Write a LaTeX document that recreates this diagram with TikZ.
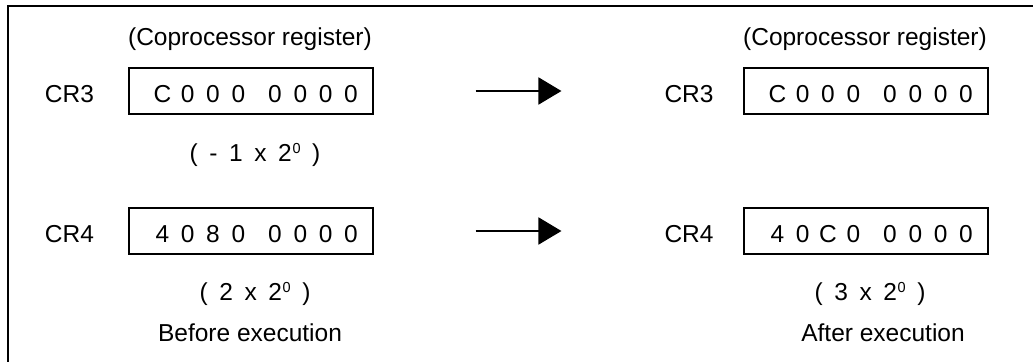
\documentclass[tikz,border=0pt]{standalone}
\usepackage{fontspec}
\setmainfont{Liberation Sans}
\usetikzlibrary{arrows.meta}
\newcommand\hexcell[1]{\makebox[25.3pt]{#1}}
\newcommand\hexword[8]{\hexcell{#1}\hexcell{#2}\hexcell{#3}\hexcell{#4}\hspace{11.4pt}\hexcell{#5}\hexcell{#6}\hexcell{#7}\hexcell{#8}}
\newcommand\pgap{\hspace{11.6pt}}
\newcommand\supzero{\hspace{0.6pt}\raisebox{7.6pt}{\fontsize{14.5}{15}\selectfont 0}}
\begin{document}
\begin{tikzpicture}[x=1pt,y=-1pt,
  every node/.style={inner sep=0pt, font=\fontsize{24.5}{29}\selectfont},
  lbl/.style={anchor=base},
  regbox/.style={draw, line width=1.1pt, minimum width=244pt, minimum height=46pt},
  flow/.style={line width=1.9pt, -{Triangle[length=23pt,width=27pt]}}]
\useasboundingbox (0,0) rectangle (1033,362);
\draw[line width=2pt] (1033,6) -- (8,6) -- (8,362);

% left side (before)
\node[lbl] (hdl) at (250,45) {(Coprocessor register)};
\node[lbl] (cr3l) at (69.5,102) {CR3};
\node[regbox] (b3l) at (251,91) {};
\node[lbl] (t3l) at (256.7,102) {\hexword{C}{0}{0}{0}{0}{0}{0}{0}};
\node[lbl] (v3l) at (255,161) {(\pgap-\pgap1\pgap x\pgap 2\supzero\pgap)};
\node[lbl] (cr4l) at (69.5,242) {CR4};
\node[regbox] (b4l) at (251,231) {};
\node[lbl] (t4l) at (256.7,242) {\hexword{4}{0}{8}{0}{0}{0}{0}{0}};
\node[lbl] (v4l) at (255,300) {(\pgap 2\pgap x\pgap 2\supzero\pgap)};
\node[lbl] (bef) at (250,341) {Before execution};

% right side (after)
\node[lbl] (hdr) at (865,45) {(Coprocessor register)};
\node[lbl] (cr3r) at (689,102) {CR3};
\node[regbox] (b3r) at (866,91) {};
\node[lbl] (t3r) at (871.7,102) {\hexword{C}{0}{0}{0}{0}{0}{0}{0}};
\node[lbl] (cr4r) at (689,242) {CR4};
\node[regbox] (b4r) at (866,231) {};
\node[lbl] (t4r) at (871.7,242) {\hexword{4}{0}{C}{0}{0}{0}{0}{0}};
\node[lbl] (v4r) at (870,300) {(\pgap 3\pgap x\pgap 2\supzero\pgap)};
\node[lbl] (aft) at (883,341) {After execution};

% arrows
\draw[flow, shorten <=102pt, shorten >=182pt] (b3l.east) -- (b3r.west);
\draw[flow, shorten <=102pt, shorten >=182pt] (b4l.east) -- (b4r.west);
\end{tikzpicture}
\end{document}
